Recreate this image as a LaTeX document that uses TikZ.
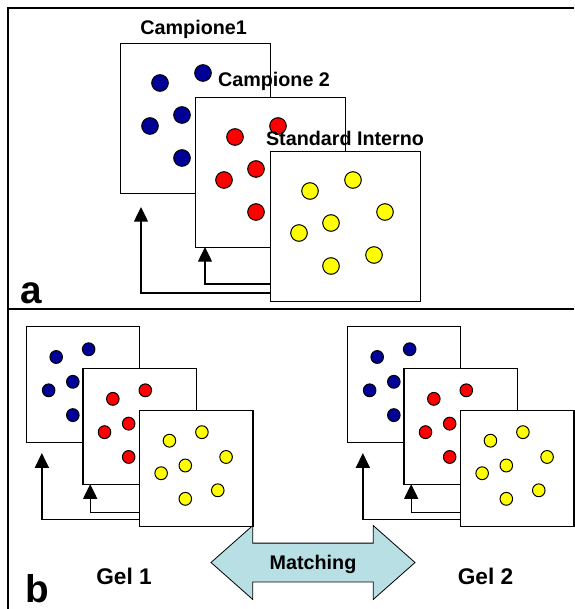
\documentclass[tikz,border=0pt]{standalone}
\usepackage{fontspec}
\setmainfont{Liberation Sans}
\usepackage{tikz}
\usetikzlibrary{arrows.meta,positioning,shapes.arrows}
\definecolor{spotblue}{RGB}{0,0,150}
\definecolor{spotred}{RGB}{255,0,0}
\definecolor{spotyellow}{RGB}{255,255,0}
\definecolor{matchcol}{RGB}{183,223,228}
\tikzset{
  gel/.style={draw,line width=1pt,fill=white,minimum width=112.5pt,minimum height=112.5pt,inner sep=0pt,anchor=north west},
  spot/.style={draw,line width=0.75pt},
  feed/.style={-{Triangle[width=10.5pt,length=11pt]},line width=1pt},
  lbl/.style={font=\bfseries\fontsize{14.8}{17}\selectfont,inner sep=0pt},
  gellbl/.style={font=\bfseries\fontsize{17}{20}\selectfont,anchor=base,inner sep=0pt},
  panel/.style={font=\bfseries\fontsize{29}{32}\selectfont,anchor=base,inner sep=0pt},
  matcharrow/.style={double arrow,draw,line width=0.6pt,fill=matchcol,font=\bfseries\fontsize{14.8}{17}\selectfont,
    minimum height=153pt,double arrow head extend=13.1pt,double arrow tip angle=83,
    inner xsep=0pt,inner ysep=8.95pt,text height=10.6pt,text depth=0pt},
}
% one stack of three gels, box 1 top left at the origin
\newcommand{\gelstack}[1]{%
  \node[gel] (#11) at (0,0) {};
  \foreach \x/\y in {40/40,83/30,30/83,62/72,62/115} \draw[spot,fill=spotblue] (\x,\y) circle (8.3);
  \node[gel] (#12) at (75,54) {};
  \foreach \x/\y in {40/40,83/29,29/83,61/72,61/115} \draw[spot,fill=spotred] (75+\x,54+\y) circle (8.3);
  \node[gel] (#13) at (150,108) {};
  \foreach \x/\y in {40/40,83/29,115/61,61/72,29/82,61/115,104/104} \draw[spot,fill=spotyellow] (150+\x,108+\y) circle (8.3);
  \coordinate (#1so) at (0,250); \coordinate (#1si) at (0,241);
  \coordinate (#1eo) at (21,164); \coordinate (#1ei) at (85,204);
  \draw[feed] (#13.west |- #1so) -| (#1eo);
  \draw[feed] (#13.west |- #1si) -| (#1ei);
}

\begin{document}
\begin{tikzpicture}[x=0.75pt,y=-0.75pt]
  \useasboundingbox (0,0) rectangle (574,609);
  \draw[line width=1.1pt] (574,8) -- (8,8) -- (8,609); \draw[line width=1.1pt] (8,309) -- (574,309);
  % a
  \begin{scope}[shift={(120,43)}]
    \gelstack{a}
  \end{scope}
  \node[lbl,above=6.5pt of a1,anchor=base,xshift=-1.5pt] (camp1) {Campione1};
  \node[lbl,above=7.5pt of a2,anchor=base,xshift=2.5pt] (camp2) {Campione 2};
  \node[lbl,above=3.75pt of a3,anchor=base,xshift=-0.5pt] (stdint) {Standard Interno};
  \node[panel] (pa) at (31.5,303) {a};
  % b
  \begin{scope}[shift={(26,326)},xscale=0.755,yscale=0.775,transform shape]
    \gelstack{l}
  \end{scope}
  \begin{scope}[shift={(347,326)},xscale=0.755,yscale=0.775,transform shape]
    \gelstack{r}
  \end{scope}
  \node[matcharrow] (match) at (313,562.5) {Matching};
  \node[gellbl] (gel1) at (124,584) {Gel 1};
  \node[gellbl] (gel2) at (485.5,584) {Gel 2};
  \node[panel] (pb) at (37,602) {b};
\end{tikzpicture}
\end{document}
